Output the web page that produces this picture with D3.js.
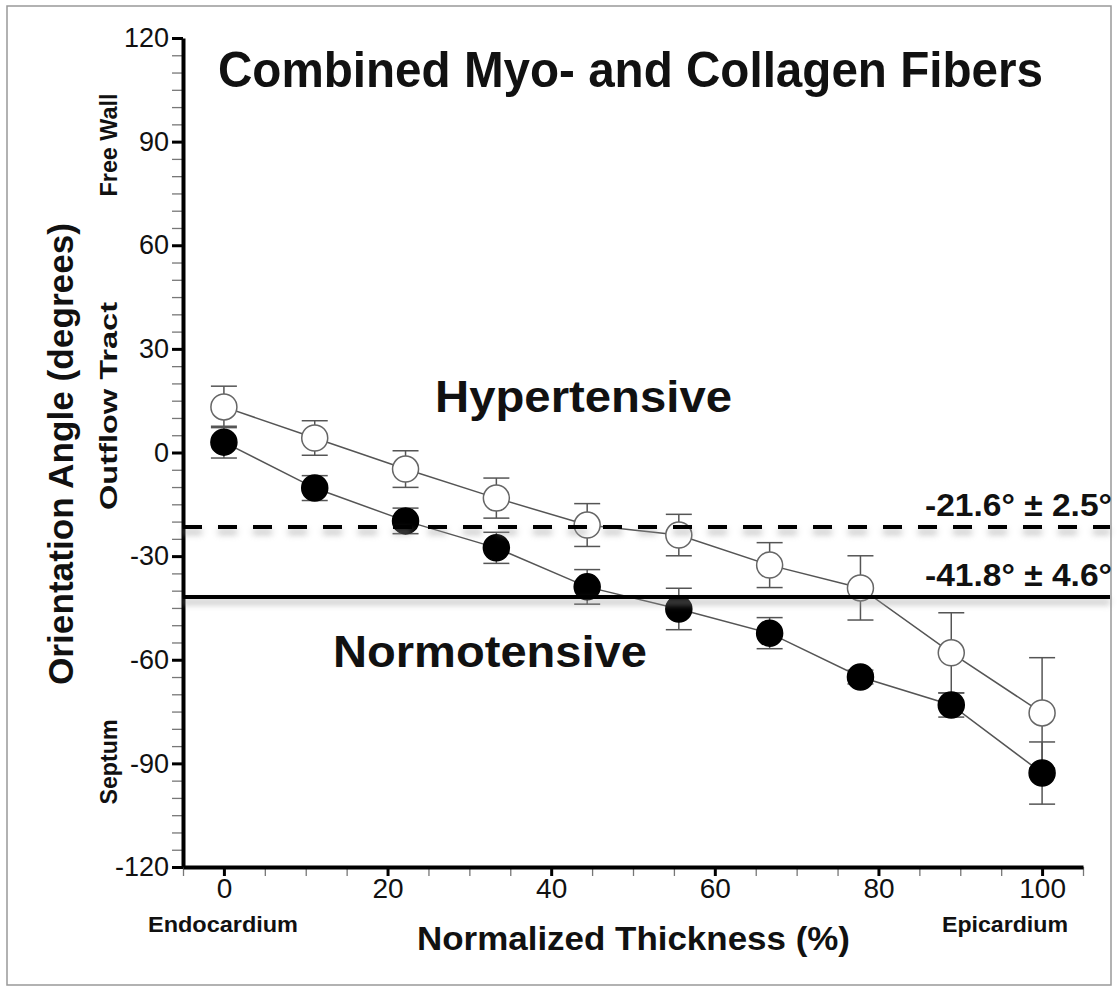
<!DOCTYPE html>
<html>
<head>
<meta charset="utf-8">
<script src="https://cdn.jsdelivr.net/npm/d3@7"></script>
<style>
  body { margin: 0; background: #fff; }
  text { font-family: "Liberation Sans", Arial, sans-serif; fill: #111; }
</style>
</head>
<body>
<div id="chart"></div>
<script>
// thickness positions (% of wall)
const thickness = [0, 11.1, 22.2, 33.3, 44.4, 55.6, 66.7, 77.8, 88.9, 100];

// hypertensive (open circles)
const hyperMean = [13.2, 4.2, -4.8, -13.2, -21.0, -23.9, -32.6, -39.2, -58.0, -75.4];
const hyperErr  = [6.0, 5.0, 5.3, 5.8, 6.2, 6.0, 6.5, 9.3, 11.6, 16.0];

// normotensive (filled circles)
const normoMean = [3.0, -10.3, -19.8, -27.6, -38.9, -45.3, -52.3, -65.0, -73.1, -92.8];
const normoErr  = [4.6, 3.6, 3.7, 4.5, 5.0, 6.0, 4.5, 2.0, 3.5, 9.0];

// group averages
const refLabels = ["-21.6° ± 2.5°", "-41.8° ± 4.6°"];
const refValues = [-21.6, -41.8];

const yTicks = [-120, -90, -60, -30, 0, 30, 60, 90, 120];
const xTicks = [0, 20, 40, 60, 80, 100];

class OrientationChart {
  constructor(config) {
    this.settings = {
      targetElement: config.targetElement,
      width: 1119,
      height: 988,
      plot: { left: 183, right: 1083, top: 38, bottom: 867, lineEnd: 1110 }
    };
    this.initChart();
  }

  initChart() {
    let vis = this;
    let s = vis.settings;

    vis.svg = d3.select(s.targetElement)
      .append('svg')
      .attr('width', s.width)
      .attr('height', s.height);

    // blur used for the shadow under the reference lines
    vis.svg.append('defs').append('filter')
      .attr('id', 'blur')
      .attr('filterUnits', 'userSpaceOnUse')
      .attr('x', 0).attr('y', 0)
      .attr('width', s.width).attr('height', s.height)
      .append('feGaussianBlur')
      .attr('stdDeviation', 3);

    vis.svg.append('rect')
      .attr('width', s.width).attr('height', s.height)
      .attr('fill', '#fff');

    // page frame
    vis.svg.append('rect')
      .attr('x', 7).attr('y', 6)
      .attr('width', 1104).attr('height', 979)
      .attr('fill', 'none')
      .attr('stroke', '#999')
      .attr('stroke-width', 1.5);

    vis.x = d3.scaleLinear().domain([-5, 105]).range([s.plot.left, s.plot.right]);
    vis.y = d3.scaleLinear().domain([-120, 120]).range([s.plot.bottom, s.plot.top]);

    vis.drawAxes();
    vis.drawSeries(hyperMean, hyperErr, '#fff');
    vis.drawSeries(normoMean, normoErr, '#000');
    vis.drawRefLines();
    vis.drawLabels();
  }

  drawAxes() {
    let vis = this;
    let s = vis.settings;

    // minor ticks every 5 units
    let yMinor = d3.range(-120, 121, 5).filter(d => !yTicks.includes(d));
    vis.svg.append('g')
      .attr('transform', `translate(${s.plot.left},0)`)
      .call(d3.axisLeft(vis.y).tickValues(yMinor).tickSize(11).tickSizeOuter(0).tickFormat(''))
      .call(g => g.select('.domain').remove())
      .call(g => g.selectAll('line').attr('stroke', '#777').attr('stroke-width', 1.3));

    let xMinor = d3.range(-5, 106, 5).filter(d => !xTicks.includes(d));
    vis.svg.append('g')
      .attr('transform', `translate(0,${s.plot.bottom})`)
      .call(d3.axisBottom(vis.x).tickValues(xMinor).tickSize(9).tickSizeOuter(0).tickFormat(''))
      .call(g => g.select('.domain').remove())
      .call(g => g.selectAll('line').attr('stroke', '#777').attr('stroke-width', 1.3));

    // major y axis
    vis.svg.append('g')
      .attr('transform', `translate(${s.plot.left},0)`)
      .call(d3.axisLeft(vis.y).tickValues(yTicks).tickSize(11).tickSizeOuter(0).tickPadding(3).tickFormat(d => String(d)))
      .call(g => g.select('.domain').attr('stroke', '#000').attr('stroke-width', 4))
      .call(g => g.selectAll('.tick line').attr('stroke', '#000').attr('stroke-width', 3))
      .call(g => g.selectAll('.tick text')
        .attr('font-size', 27)
        .attr('font-family', '"Liberation Sans", Arial, sans-serif')
        .attr('fill', '#222'));

    // major x axis
    vis.svg.append('g')
      .attr('transform', `translate(0,${s.plot.bottom})`)
      .call(d3.axisBottom(vis.x).tickValues(xTicks).tickSize(9).tickSizeOuter(0).tickPadding(2).tickFormat(d => String(d)))
      .call(g => g.select('.domain').attr('stroke', '#000').attr('stroke-width', 4))
      .call(g => g.selectAll('.tick line').attr('stroke', '#000').attr('stroke-width', 3))
      .call(g => g.selectAll('.tick text')
        .attr('font-size', 28)
        .attr('font-family', '"Liberation Sans", Arial, sans-serif')
        .attr('fill', '#222'));
  }

  drawSeries(means, errs, fill) {
    let vis = this;
    let data = thickness.map((t, i) => ({ t: t, v: means[i], e: errs[i] }));
    let g = vis.svg.append('g');
    let cap = 13;

    // connecting line
    g.append('path')
      .datum(data)
      .attr('fill', 'none')
      .attr('stroke', '#555')
      .attr('stroke-width', 1.5)
      .attr('d', d3.line().x(d => vis.x(d.t)).y(d => vis.y(d.v)));

    // error bars
    let bars = g.selectAll('g.err')
      .data(data)
      .join('g')
      .attr('class', 'err')
      .attr('stroke', '#555')
      .attr('stroke-width', 1.5);
    bars.append('line')
      .attr('x1', d => vis.x(d.t)).attr('x2', d => vis.x(d.t))
      .attr('y1', d => vis.y(d.v - d.e)).attr('y2', d => vis.y(d.v + d.e));
    bars.append('line')
      .attr('x1', d => vis.x(d.t) - cap).attr('x2', d => vis.x(d.t) + cap)
      .attr('y1', d => vis.y(d.v + d.e)).attr('y2', d => vis.y(d.v + d.e));
    bars.append('line')
      .attr('x1', d => vis.x(d.t) - cap).attr('x2', d => vis.x(d.t) + cap)
      .attr('y1', d => vis.y(d.v - d.e)).attr('y2', d => vis.y(d.v - d.e));

    g.selectAll('circle')
      .data(data)
      .join('circle')
      .attr('cx', d => vis.x(d.t))
      .attr('cy', d => vis.y(d.v))
      .attr('r', 13)
      .attr('fill', fill)
      .attr('stroke', fill === '#000' ? '#000' : '#666')
      .attr('stroke-width', 1.5);
  }

  drawRefLines() {
    let vis = this;
    let s = vis.settings;
    let dash = (d, i) => i === 0 ? '19,16' : null;

    // blurred grey copy slightly below each line
    vis.svg.selectAll('line.shadow')
      .data(refValues)
      .join('line')
      .attr('class', 'shadow')
      .attr('x1', s.plot.left)
      .attr('x2', s.plot.lineEnd)
      .attr('y1', d => vis.y(d) + 5)
      .attr('y2', d => vis.y(d) + 5)
      .attr('stroke', '#999')
      .attr('stroke-width', 5)
      .attr('stroke-dasharray', dash)
      .attr('opacity', 0.6)
      .attr('filter', 'url(#blur)');

    vis.svg.selectAll('line.ref')
      .data(refValues)
      .join('line')
      .attr('class', 'ref')
      .attr('x1', s.plot.left)
      .attr('x2', s.plot.lineEnd)
      .attr('y1', d => vis.y(d))
      .attr('y2', d => vis.y(d))
      .attr('stroke', '#000')
      .attr('stroke-width', 4)
      .attr('stroke-dasharray', dash);

    vis.svg.selectAll('text.ref')
      .data(refValues)
      .join('text')
      .attr('class', 'ref')
      .attr('x', 925)
      .attr('y', d => vis.y(d) - 11)
      .attr('font-family', 'Lato, "Open Sans", sans-serif')
      .attr('font-weight', 'bold')
      .attr('font-size', 31)
      .attr('textLength', 187)
      .attr('lengthAdjust', 'spacingAndGlyphs')
      .text((d, i) => refLabels[i]);
  }

  drawLabels() {
    let vis = this;
    let bold = (sel) => sel.attr('font-weight', 'bold').attr('lengthAdjust', 'spacingAndGlyphs');

    vis.svg.append('text')
      .attr('x', 218).attr('y', 87)
      .attr('font-size', 50)
      .attr('textLength', 825)
      .call(bold)
      .text('Combined Myo- and Collagen Fibers');

    vis.svg.append('text')
      .attr('x', 435).attr('y', 412)
      .attr('font-size', 44)
      .attr('textLength', 297)
      .call(bold)
      .text('Hypertensive');

    vis.svg.append('text')
      .attr('x', 333).attr('y', 667)
      .attr('font-size', 45)
      .attr('textLength', 314)
      .call(bold)
      .text('Normotensive');

    vis.svg.append('text')
      .attr('x', 417).attr('y', 950)
      .attr('font-size', 33)
      .attr('textLength', 433)
      .call(bold)
      .text('Normalized Thickness (%)');

    vis.svg.append('text')
      .attr('x', 148).attr('y', 932)
      .attr('font-size', 22)
      .attr('textLength', 150)
      .call(bold)
      .text('Endocardium');

    vis.svg.append('text')
      .attr('x', 942).attr('y', 932)
      .attr('font-size', 22)
      .attr('textLength', 126)
      .call(bold)
      .text('Epicardium');

    // rotated labels: [text, centre y, baseline x, size, length]
    let sideLabels = [
      ['Orientation Angle (degrees)', 454, 73, 35, 462],
      ['Free Wall', 145, 117, 23, 103],
      ['Outflow Tract', 406, 117, 23, 208],
      ['Septum', 762, 117, 23, 85]
    ];
    vis.svg.selectAll('text.side')
      .data(sideLabels)
      .join('text')
      .attr('class', 'side')
      .attr('transform', d => `translate(${d[2]},${d[1]}) rotate(-90)`)
      .attr('text-anchor', 'middle')
      .attr('font-size', d => d[3])
      .attr('textLength', d => d[4])
      .call(bold)
      .text(d => d[0]);
  }
}

new OrientationChart({ targetElement: '#chart' });
</script>
</body>
</html>
